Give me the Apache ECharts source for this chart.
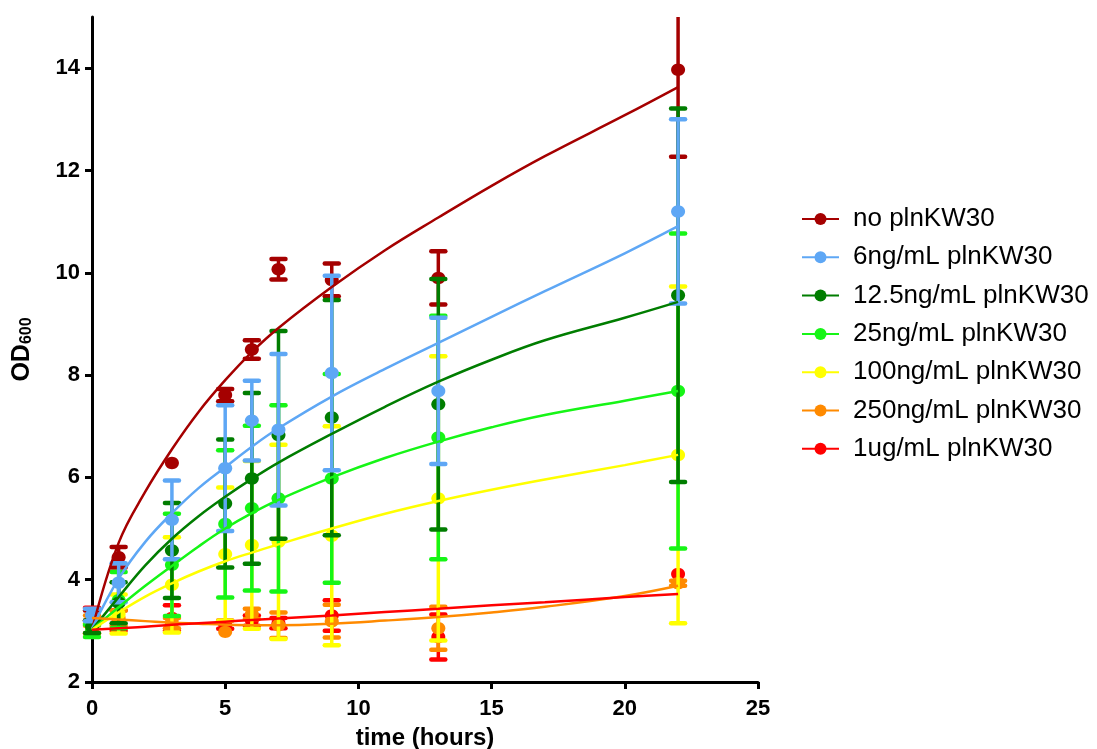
<!DOCTYPE html>
<html>
<head>
<meta charset="utf-8">
<script src="https://cdn.jsdelivr.net/npm/echarts@6/dist/echarts.min.js"></script>
<style>
html,body{margin:0;padding:0;background:#fff}
#chart{width:1097px;height:749px}
</style>
</head>
<body>
<div id="chart"></div>
<script>
// sampling times of the measurements (hours)
var times = [0, 1, 3, 5, 6, 7, 9, 13, 22];
var fitTimes = [0, 1, 2, 3, 4, 5, 6, 7, 9, 11, 13, 15, 17, 20, 22];
var xTicks = [0, 5, 10, 15, 20, 25];
var yTicks = [2, 4, 6, 8, 10, 12, 14];

var names = ['no plnKW30', '6ng/mL plnKW30', '12.5ng/mL plnKW30', '25ng/mL plnKW30',
	'100ng/mL plnKW30', '250ng/mL plnKW30', '1ug/mL plnKW30'];
var colors = ['#a50000', '#5ea7f5', '#007d00', '#16f516', '#ffff00', '#ff8a00', '#ff0000'];

// mean OD600 per time point
var noMean = [3.3, 4.44, 6.28, 7.61, 8.5, 10.07, 9.86, 9.9, 13.97];
var ng6Mean = [3.31, 3.94, 5.17, 6.18, 7.11, 6.93, 8.04, 7.69, 11.2];
var ng12Mean = [3.08, 3.55, 4.57, 5.49, 5.98, 6.83, 7.17, 7.43, 9.56];
var ng25Mean = [3.0, 3.6, 4.29, 5.09, 5.4, 5.59, 5.98, 6.78, 7.69];
var ng100Mean = [3.05, 3.33, 3.9, 4.5, 4.68, 4.74, 4.86, 5.59, 6.44];
var ng250Mean = [3.2, 3.25, 3.15, 2.98, 3.33, 3.11, 3.19, 3.05, 3.93];
var ug1Mean = [3.2, 3.2, 3.25, 3.12, 3.2, 3.15, 3.3, 2.88, 4.11];

// error (+/-)
var noErr = [0.1, 0.2, 0, 0.12, 0.18, 0.2, 0.32, 0.52, 1.7];
var ng6Err = [0.12, 0.38, 0.77, 1.23, 0.78, 1.48, 1.9, 1.43, 1.8];
var ng12Err = [0.12, 0.4, 0.93, 1.25, 1.67, 2.03, 2.3, 2.45, 3.65];
var ng25Err = [0.12, 0.55, 1.0, 1.44, 1.61, 1.82, 2.04, 2.38, 3.08];
var ng100Err = [0.1, 0.38, 0.93, 1.3, 1.64, 1.9, 2.14, 2.78, 3.29];
var ng250Err = [0.1, 0.15, 0.1, 0, 0.1, 0.25, 0.32, 0.42, 0.05];
var ug1Err = [0.25, 0.2, 0.25, 0.08, 0.1, 0.1, 0.3, 0.44, 0];

// fitted growth curves
var noFit = [3.02, 4.72, 5.72, 6.55, 7.28, 7.9, 8.45, 8.92, 9.72, 10.44, 11.08, 11.7, 12.28, 13.08, 13.63];
var ng6Fit = [3.04, 4.02, 4.74, 5.3, 5.79, 6.2, 6.6, 6.96, 7.58, 8.12, 8.63, 9.14, 9.64, 10.38, 10.91];
var ng12Fit = [3.02, 3.66, 4.28, 4.8, 5.24, 5.62, 5.97, 6.29, 6.85, 7.38, 7.87, 8.3, 8.68, 9.12, 9.43];
var ng25Fit = [3.02, 3.46, 3.88, 4.27, 4.65, 5.0, 5.3, 5.56, 6.0, 6.38, 6.7, 6.98, 7.22, 7.5, 7.69];
var ng100Fit = [3.02, 3.36, 3.67, 3.93, 4.16, 4.36, 4.53, 4.69, 5.0, 5.29, 5.54, 5.76, 5.96, 6.24, 6.44];
var ng250Fit = [3.25, 3.22, 3.19, 3.16, 3.14, 3.12, 3.11, 3.11, 3.14, 3.2, 3.27, 3.36, 3.47, 3.68, 3.88];
var ug1Fit = [3.02, 3.05, 3.08, 3.12, 3.15, 3.18, 3.21, 3.24, 3.3, 3.37, 3.43, 3.5, 3.56, 3.66, 3.72];

var means = [noMean, ng6Mean, ng12Mean, ng25Mean, ng100Mean, ng250Mean, ug1Mean];
var errs = [noErr, ng6Err, ng12Err, ng25Err, ng100Err, ng250Err, ug1Err];
var fits = [noFit, ng6Fit, ng12Fit, ng25Fit, ng100Fit, ng250Fit, ug1Fit];

// order the error bars are stacked in (bottom first)
var drawOrder = [0, 6, 5, 4, 3, 2, 1];

var FONT = '"Liberation Sans", Arial, sans-serif';

function errRender(color) {
	return function (params, api) {
		var t = api.value(0), m = api.value(1), e = api.value(2);
		var cs = params.coordSys;
		var c = api.coord([t, m]);
		var kids = [];
		function cap(x, y) {
			return {type: 'line', shape: {x1: x - 7, y1: y, x2: x + 7, y2: y},
				style: {stroke: color, lineWidth: 4.5, lineCap: 'round'}};
		}
		if (e > 0) {
			var top = api.coord([t, m + e]);
			var bot = api.coord([t, m - e]);
			var topY = Math.max(top[1], cs.y);
			kids.push({type: 'line', shape: {x1: c[0], y1: topY, x2: c[0], y2: bot[1]},
				style: {stroke: color, lineWidth: 3.5}});
			if (top[1] >= cs.y) kids.push(cap(c[0], top[1]));
			kids.push(cap(c[0], bot[1]));
		}
		kids.push({type: 'ellipse', shape: {cx: c[0], cy: c[1], rx: 7, ry: 6.2}, style: {fill: color}});
		return {type: 'group', children: kids};
	};
}

var series = [];
// fitted curves first so the legend takes its icon from them
for (var i = 0; i < names.length; i++) {
	series.push({
		name: names[i],
		type: 'line',
		z: 3,
		smooth: 0.4,
		symbol: 'circle',
		showSymbol: false,
		silent: true,
		color: colors[i],
		lineStyle: {width: 2.5, color: colors[i]},
		data: fitTimes.map(function (t, k) { return [t, fits[i][k]]; })
	});
}
drawOrder.forEach(function (i) {
	series.push({
		name: names[i],
		type: 'custom',
		z: 2,
		silent: true,
		color: colors[i],
		renderItem: errRender(colors[i]),
		encode: {x: 0, y: 1},
		data: times.map(function (t, k) { return [t, means[i][k], errs[i][k]]; })
	});
});

var chart = echarts.init(document.getElementById('chart'));
chart.setOption({
	animation: false,
	backgroundColor: '#fff',
	grid: {left: 92, right: 339, top: 17, bottom: 67, containLabel: false, outerBoundsMode: 'none'},
	legend: {
		orient: 'vertical',
		left: 796,
		top: 201,
		itemWidth: 37,
		itemHeight: 15,
		itemGap: 12.3,
		selectedMode: false,
		data: names,
		textStyle: {fontSize: 26, fontFamily: FONT, color: '#000', lineHeight: 26, padding: [0, 0, 0, 9]}
	},
	xAxis: {
		type: 'value',
		min: 0,
		max: 25,
		interval: 5,
		name: 'time (hours)',
		nameLocation: 'middle',
		nameGap: 44,
		nameTextStyle: {fontSize: 24, fontWeight: 'bold', fontFamily: FONT, color: '#000'},
		axisLine: {lineStyle: {color: '#000', width: 3}},
		axisTick: {length: 7, lineStyle: {color: '#000', width: 3}, customValues: xTicks},
		axisLabel: {margin: 16, fontSize: 22, fontWeight: 'bold', fontFamily: FONT, color: '#000', customValues: xTicks},
		splitLine: {show: false}
	},
	yAxis: {
		type: 'value',
		min: 2,
		max: 15,
		interval: 1,
		name: '{a|OD}{b|600}',
		nameLocation: 'middle',
		nameRotate: 90,
		nameGap: 57,
		nameTextStyle: {
			color: '#000',
			rich: {
				a: {fontSize: 25, lineHeight: 25, fontWeight: 'bold', fontFamily: FONT, color: '#000', verticalAlign: 'top'},
				b: {fontSize: 16, lineHeight: 16, fontWeight: 'bold', fontFamily: FONT, color: '#000', verticalAlign: 'top', padding: [9, 0, 0, 0]}
			}
		},
		axisLine: {lineStyle: {color: '#000', width: 3}},
		axisTick: {length: 7, lineStyle: {color: '#000', width: 3}, customValues: yTicks},
		axisLabel: {margin: 12, fontSize: 22, fontWeight: 'bold', fontFamily: FONT, color: '#000', customValues: yTicks},
		splitLine: {show: false}
	},
	series: series
});
</script>
</body>
</html>
